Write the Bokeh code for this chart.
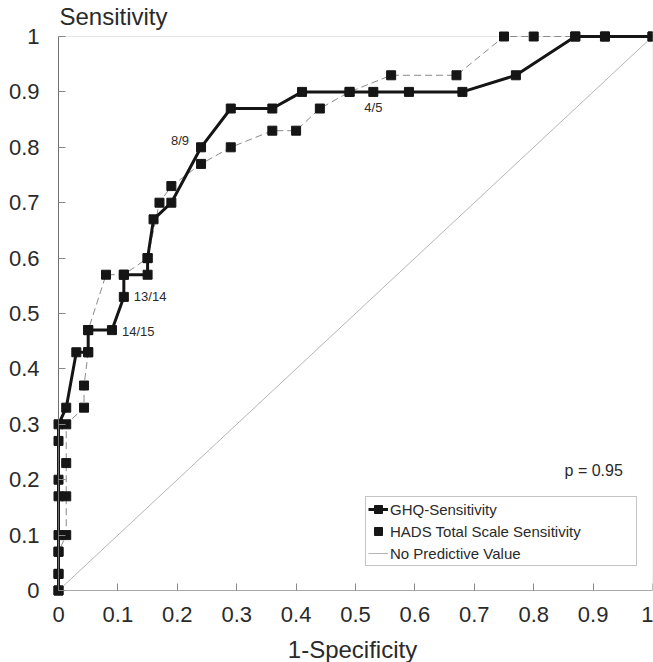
from bokeh.plotting import figure
from bokeh.models import FixedTicker, Label, Legend, LegendItem, BoxAnnotation, LinearAxis, Title
from bokeh.embed import file_html
from bokeh.resources import INLINE

# ---- data ----
ghq_x = [0, 0, 0, 0, 0, 0, 0, 0, 0.013, 0.03, 0.05, 0.05, 0.09, 0.11, 0.11, 0.15, 0.15,
         0.16, 0.19, 0.24, 0.29, 0.36, 0.41, 0.49, 0.53, 0.59, 0.68, 0.77, 0.87, 0.92, 1.0]
ghq_y = [0, 0.03, 0.07, 0.10, 0.17, 0.20, 0.27, 0.30, 0.33, 0.43, 0.43, 0.47, 0.47, 0.53, 0.57, 0.57, 0.60,
         0.67, 0.70, 0.80, 0.87, 0.87, 0.90, 0.90, 0.90, 0.90, 0.90, 0.93, 1.0, 1.0, 1.0]

hads_x = [0, 0, 0, 0.013, 0.013, 0.013, 0.013, 0.043, 0.043, 0.05, 0.05, 0.08, 0.11, 0.15, 0.17,
          0.19, 0.24, 0.29, 0.36, 0.40, 0.44, 0.49, 0.56, 0.67, 0.75, 0.80, 0.87, 0.92, 1.0]
hads_y = [0, 0.03, 0.07, 0.10, 0.17, 0.23, 0.30, 0.33, 0.37, 0.43, 0.47, 0.57, 0.57, 0.60, 0.70,
          0.73, 0.77, 0.80, 0.83, 0.83, 0.87, 0.90, 0.93, 0.93, 1.0, 1.0, 1.0, 1.0, 1.0]

chance_x = [0, 1]
chance_y = [0, 1]

tick_values = [0, 0.1, 0.2, 0.3, 0.4, 0.5, 0.6, 0.7, 0.8, 0.9, 1]
tick_labels = ["0", "0.1", "0.2", "0.3", "0.4", "0.5", "0.6", "0.7", "0.8", "0.9", "1"]

cutoff_labels = ["14/15", "13/14", "8/9", "4/5"]
cutoff_x = [0.09, 0.11, 0.24, 0.53]
cutoff_y = [0.47, 0.53, 0.80, 0.90]

legend_labels = ["GHQ-Sensitivity", "HADS Total Scale Sensitivity", "No Predictive Value"]
p_text = "p = 0.95"
x_title = "1-Specificity"
y_title = "Sensitivity"

# ---- styling ----
FONT = "Liberation Sans"
TXT = "#2a2a2a"
PAD_L, PAD_T, PAD_B = 6, 6, 6
FW, FH = 594, 554

p = figure(
    frame_width=FW + PAD_L, frame_height=FH + PAD_T + PAD_B,
    x_range=(-PAD_L / FW, 1.0),
    y_range=(-PAD_B / FH, 1 + PAD_T / FH),
    output_backend="svg", toolbar_location=None, title=None,
    min_border_left=52, min_border_right=1, min_border_top=29, min_border_bottom=58,
)
p.outline_line_color = None
p.grid.visible = False
p.background_fill_color = "white"
p.border_fill_color = "white"

# y-axis title written horizontally above the plot, as in the reference
p.add_layout(Title(text=y_title, align="left", offset=7, standoff=1,
                   text_font=FONT, text_font_size="24px", text_font_style="normal",
                   text_color=TXT), "above")

frame_box = BoxAnnotation(left=0, right=1, bottom=0, top=1, fill_alpha=0,
                          line_color="#b0b0b0", line_width=1, level="underlay")
p.add_layout(frame_box)

overrides = {v: s for v, s in zip(tick_values, tick_labels)}

# label-carrying axes at the frame edges (no line, no ticks)
for ax in (p.xaxis[0], p.yaxis[0]):
    ax.bounds = (0, 1)
    ax.ticker = FixedTicker(ticks=tick_values)
    ax.major_label_overrides = overrides
    ax.axis_line_color = None
    ax.major_tick_line_color = None
    ax.minor_tick_line_color = None
    ax.major_tick_in = 0
    ax.major_tick_out = 0
    ax.major_label_text_font = FONT
    ax.major_label_text_font_size = "22px"
    ax.major_label_text_color = TXT

p.xaxis[0].major_label_standoff = 10
p.yaxis[0].major_label_standoff = 13
p.xaxis[0].axis_label = x_title
p.xaxis[0].axis_label_text_font = FONT
p.xaxis[0].axis_label_text_font_size = "24px"
p.xaxis[0].axis_label_text_font_style = "normal"
p.xaxis[0].axis_label_text_color = TXT
p.xaxis[0].axis_label_standoff = 11

# axis lines and inward ticks placed exactly at x=0 / y=0
for side, col in (("below", "#a8a8a8"), ("left", "#707070")):
    la = LinearAxis(fixed_location=0, bounds=(0, 1), ticker=FixedTicker(ticks=tick_values),
                    axis_line_color=col, major_tick_line_color="#888888",
                    minor_tick_line_color=None, major_tick_in=7, major_tick_out=0,
                    major_label_text_color=None)
    p.add_layout(la, side)

# no predictive value diagonal
diag = p.line(chance_x, chance_y, line_color="#b5b5b5", line_width=1)

# HADS (thin dashed)
hads_line = p.line(hads_x, hads_y, line_color="#8a8a8a", line_width=1, line_dash="7 4")
hads_pts = p.scatter(hads_x, hads_y, marker="square", size=9,
                     fill_color="#151515", line_color="#151515")

# GHQ (thick solid)
ghq_line = p.line(ghq_x, ghq_y, line_color="#151515", line_width=3)
ghq_pts = p.scatter(ghq_x, ghq_y, marker="square", size=9,
                    fill_color="#151515", line_color="#151515")

# cutoff annotations
label_offsets = [(10, -1), (10, 0), (-12, 7), (0, -16)]
label_aligns = ["left", "left", "right", "center"]
for t, x, y, (dx, dy), al in zip(cutoff_labels, cutoff_x, cutoff_y, label_offsets, label_aligns):
    p.add_layout(Label(x=x, y=y, text=t, x_offset=dx, y_offset=dy, text_align=al,
                       text_baseline="middle", text_font=FONT, text_font_size="13px",
                       text_color=TXT))

p.add_layout(Label(x=0.852, y=0.217, text=p_text, text_align="left", text_baseline="middle",
                   text_font=FONT, text_font_size="16px", text_color=TXT))

legend = Legend(
    items=[LegendItem(label=legend_labels[0], renderers=[ghq_line, ghq_pts]),
           LegendItem(label=legend_labels[1], renderers=[hads_pts]),
           LegendItem(label=legend_labels[2], renderers=[diag])],
    location=(313, 30),
    padding=2, spacing=2, margin=0,
    glyph_width=20, glyph_height=20, label_height=20, label_width=244, label_standoff=2,
    label_text_font=FONT, label_text_font_size="15px", label_text_color=TXT,
    border_line_color="#8a8a8a", border_line_width=1,
    background_fill_color="white", background_fill_alpha=1,
)
p.add_layout(legend)

open("out.html", "w").write(file_html(p, INLINE))
